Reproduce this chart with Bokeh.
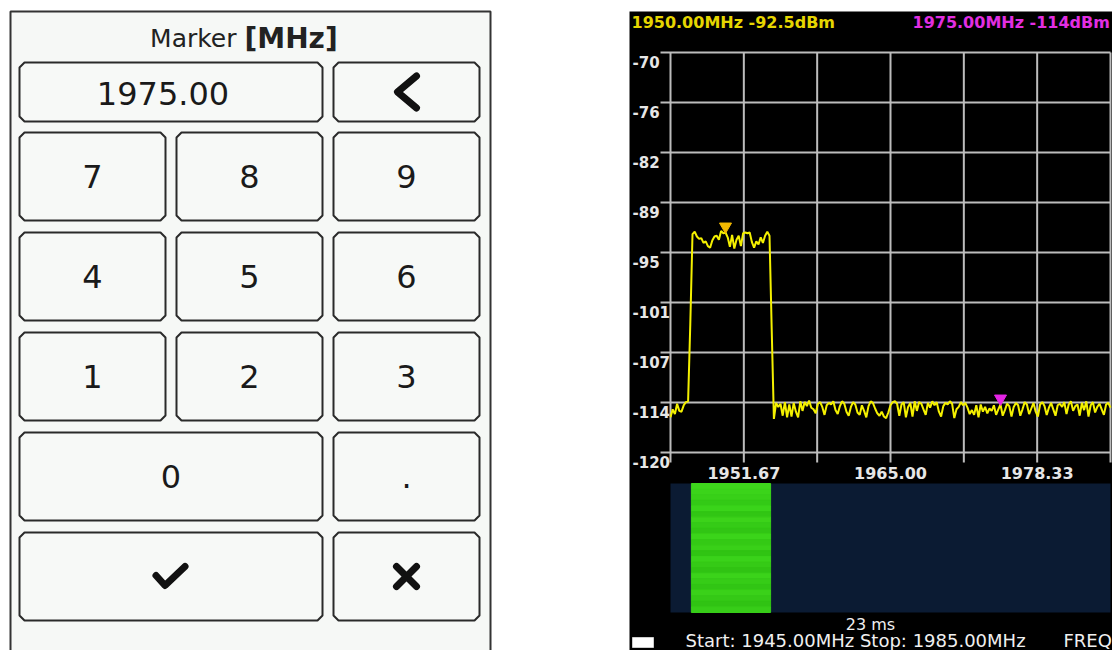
import numpy as np
from bokeh.plotting import figure
from bokeh.models import Range1d
from bokeh.core.properties import value
from bokeh.embed import file_html
from bokeh.resources import INLINE

# ------------------------------------------------------------------ data
FREQ_START_MHZ = 1945.0
FREQ_STOP_MHZ = 1985.0
FREQ_STEP_MHZ = 0.2
# one row per MHz: x.0, x.2, x.4, x.6, x.8
TRACE_DBM = [
    -115.6, -114.6, -115.2, -113.9, -114.8,   # 1945
    -114.9, -114.1, -113.7, -113.6, -103.9,   # 1946
    -92.7, -92.4, -93.0, -93.3, -93.2,        # 1947
    -93.8, -93.6, -94.2, -94.4, -93.5,        # 1948
    -93.0, -92.9, -93.4, -92.3, -92.6,        # 1949
    -92.5, -93.1, -94.3, -92.8, -94.5,        # 1950
    -93.4, -92.9, -94.2, -92.6, -92.5,        # 1951
    -92.6, -92.5, -93.7, -94.4, -93.6,        # 1952
    -94.0, -93.1, -93.8, -92.9, -92.4,        # 1953
    -92.9, -104.6, -115.8, -113.8, -114.3,    # 1954
    -113.9, -115.4, -113.7, -115.6, -114.0,   # 1955
    -115.5, -113.8, -114.9, -115.6, -113.6,   # 1956
    -114.8, -113.7, -114.2, -113.5, -114.4,   # 1957
    -114.6, -115.1, -113.9, -113.7, -114.3,   # 1958
    -115.3, -114.1, -113.8, -114.0, -113.6,   # 1959
    -114.7, -115.2, -114.2, -113.6, -113.9,   # 1960
    -114.9, -115.4, -114.3, -113.7, -114.0,   # 1961
    -115.0, -115.3, -114.1, -114.8, -115.6,   # 1962
    -114.2, -113.6, -113.8, -114.5, -115.1,   # 1963
    -115.4, -114.9, -115.5, -115.7, -115.0,   # 1964
    -114.1, -113.7, -113.6, -113.9, -115.4,   # 1965
    -114.0, -113.7, -115.6, -114.3, -113.8,   # 1966
    -115.5, -113.6, -114.8, -113.7, -113.9,   # 1967
    -114.6, -115.3, -113.8, -114.4, -113.6,   # 1968
    -114.1, -113.7, -114.9, -115.5, -114.2,   # 1969
    -113.8, -114.0, -113.6, -113.9, -115.7,   # 1970
    -114.6, -114.3, -113.7, -114.1, -113.8,   # 1971
    -114.4, -115.2, -114.7, -115.3, -114.1,   # 1972
    -115.6, -114.0, -114.9, -114.3, -115.1,   # 1973
    -114.5, -114.8, -114.1, -115.3, -114.6,   # 1974
    -114.0, -115.4, -114.7, -113.9, -114.2,   # 1975
    -115.5, -114.3, -113.8, -114.1, -115.4,   # 1976
    -114.6, -113.7, -114.0, -115.2, -114.5,   # 1977
    -113.8, -114.9, -115.5, -114.0, -113.7,   # 1978
    -114.2, -115.3, -114.4, -113.8, -114.6,   # 1979
    -115.4, -114.1, -113.9, -114.3, -113.7,   # 1980
    -115.2, -114.0, -113.6, -114.8, -114.2,   # 1981
    -114.0, -115.4, -113.8, -114.7, -113.6,   # 1982
    -115.5, -114.1, -113.7, -115.0, -114.3,   # 1983
    -113.9, -114.6, -115.3, -114.0, -113.8,   # 1984
    -114.4,                                   # 1985
]
MARKER_FREQ_MHZ = [1950.00, 1975.00]
MARKER_DBM = [-92.5, -114.0]
MARKER_COLORS = ["#f2b800", "#e424e4"]
READOUT_COLORS = ["#e6d600", "#e22ee2"]
REF_LEVEL_DBM = -70.0
BOTTOM_DBM = -120.0
Y_TICK_LABELS = ["-70", "-76", "-82", "-89", "-95", "-101", "-107", "-114", "-120"]
X_DIVISIONS = 6
X_LABELLED_DIVS = [1, 3, 5]
SWEEP_TIME_MS = 23
SIGNAL_START_MHZ = 1946.9
SIGNAL_STOP_MHZ = 1954.1
WF_ROW_COLORS = ["#3ed81c", "#3bd41a", "#38d018", "#33ca16", "#3ad41a", "#31c614",
                 "#3cd31a", "#35cb17", "#31c514", "#3bd41a", "#34c915", "#39d018",
                 "#30c413", "#3ad21a", "#35ca16", "#30c313", "#3bd31a", "#36cc17",
                 "#31c514", "#3ad119", "#35c916", "#30c313", "#37cd18"]

ENTRY_TITLE = "Marker"
ENTRY_UNIT = "[MHz]"
ENTRY_VALUE = "1975.00"
# keypad: (label, row, col, colspan)
KEYS = [("7", 1, 0, 1), ("8", 1, 1, 1), ("9", 1, 2, 1),
        ("4", 2, 0, 1), ("5", 2, 1, 1), ("6", 2, 2, 1),
        ("1", 3, 0, 1), ("2", 3, 1, 1), ("3", 3, 2, 1),
        ("0", 4, 0, 2), (".", 4, 2, 1)]
ICON_KEYS = [("back", 0, 2, 1), ("ok", 5, 0, 2), ("cancel", 5, 2, 1)]

# ------------------------------------------------------------------ layout (picture pixels)
W, H = 1112, 650
GRID_LEFT, GRID_TOP = 670, 52
PX_PER_MHZ = 440 / (FREQ_STOP_MHZ - FREQ_START_MHZ)
PX_PER_DB = 400 / (REF_LEVEL_DBM - BOTTOM_DBM)
WF_TOP, WF_BOTTOM = 483, 612
PX_PER_MS = (WF_BOTTOM - WF_TOP) / SWEEP_TIME_MS

def f_at(px):
    return FREQ_START_MHZ + (px - GRID_LEFT) / PX_PER_MHZ

def db_at(py):
    return REF_LEVEL_DBM - (py - GRID_TOP) / PX_PER_DB

def ms_at(py):
    return (py - WF_TOP) / PX_PER_MS

p = figure(width=W, height=H, x_range=Range1d(0, W), y_range=Range1d(H, 0),
           output_backend="svg", toolbar_location=None, min_border=0,
           x_axis_location=None, y_axis_location=None,
           background_fill_color="white", border_fill_color="white", outline_line_color=None)
p.grid.visible = False
p.extra_x_ranges = {"freq": Range1d(f_at(0), f_at(W))}
p.extra_y_ranges = {"dbm": Range1d(db_at(H), db_at(0)),
                    "ms": Range1d(ms_at(H), ms_at(0))}

FONT = value("DejaVu Sans")

# ------------------------------------------------------------------ keypad panel
p.quad(left=10, right=490, top=11, bottom=H + 10, fill_color="#f6f8f6",
       line_color="#333333", line_width=2)

COL_X0, COL_W, COL_PITCH = 19, 146, 157
ROW_Y0, ROW_H, ROW_PITCH = 132, 88, 100
ENTRY_Y0, ENTRY_Y1 = 62, 121

def key_box(row, col, span):
    x0 = COL_X0 + col * COL_PITCH
    x1 = x0 + COL_W + (span - 1) * COL_PITCH
    if row == 0:
        y0, y1 = ENTRY_Y0, ENTRY_Y1
    else:
        y0 = ROW_Y0 + (row - 1) * ROW_PITCH
        y1 = y0 + ROW_H
    return x0, y0, x1, y1

def chamfer(x0, y0, x1, y1, c=5):
    return ([x0 + c, x1 - c, x1, x1, x1 - c, x0 + c, x0, x0],
            [y0, y0, y0 + c, y1 - c, y1, y1, y1 - c, y0 + c])

boxes = [key_box(0, 0, 2)] + [key_box(r, c, s) for _, r, c, s in KEYS] + \
        [key_box(r, c, s) for _, r, c, s in ICON_KEYS]
xs, ys = zip(*[chamfer(*b) for b in boxes])
p.patches(xs=list(xs), ys=list(ys), fill_color="#f7f9f7", line_color="#2a2a2a", line_width=2)

p.text(x=[236], y=[38], text=[ENTRY_TITLE], text_font=FONT, text_font_size="25px",
       text_align="right", text_baseline="middle", text_color="#222222")
p.text(x=[244], y=[38], text=[ENTRY_UNIT], text_font=FONT, text_font_size="28px",
       text_font_style="bold", text_align="left", text_baseline="middle", text_color="#222222")

ex0, ey0, ex1, ey1 = key_box(0, 0, 2)
p.text(x=[(ex0 + ex1) / 2 - 8], y=[(ey0 + ey1) / 2 + 1], text=[ENTRY_VALUE], text_font=FONT,
       text_font_size="32px", text_align="center", text_baseline="middle", text_color="#1a1a1a")

kx, ky = [], []
for lab, r, c, s in KEYS:
    x0, y0, x1, y1 = key_box(r, c, s)
    kx.append((x0 + x1) / 2)
    ky.append((y0 + y1) / 2)
p.text(x=kx, y=ky, text=[k[0] for k in KEYS], text_font=FONT, text_font_size="32px",
       text_align="center", text_baseline="middle", text_color="#1a1a1a")

ICON_SHAPES = {
    "back": [[(10, -16), (-9, 0), (10, 16)]],
    "ok": [[(-15, -1), (-6, 9), (14, -10)]],
    "cancel": [[(-10, -10), (10, 10)], [(-10, 10), (10, -10)]],
}
ixs, iys = [], []
for name, r, c, s in ICON_KEYS:
    x0, y0, x1, y1 = key_box(r, c, s)
    cx, cy = (x0 + x1) / 2, (y0 + y1) / 2
    for stroke in ICON_SHAPES[name]:
        ixs.append([cx + dx for dx, dy in stroke])
        iys.append([cy + dy for dx, dy in stroke])
p.multi_line(xs=ixs, ys=iys, line_color="#111111", line_width=7,
             line_cap="round", line_join="round")

# ------------------------------------------------------------------ spectrum panel
p.quad(left=629, right=W, top=11, bottom=H, fill_color="black", line_color=None)

FR = dict(x_range_name="freq", y_range_name="dbm")
h_levels = np.linspace(REF_LEVEL_DBM, BOTTOM_DBM, len(Y_TICK_LABELS))
v_freqs = np.linspace(FREQ_START_MHZ, FREQ_STOP_MHZ, X_DIVISIONS + 1)
ext_f = 10 / PX_PER_MHZ
ext_db = 10 / PX_PER_DB
p.multi_line(xs=[[FREQ_START_MHZ - ext_f, FREQ_STOP_MHZ] for _ in h_levels],
             ys=[[v, v] for v in h_levels], line_color="#bcbcbc", line_width=2, **FR)
p.multi_line(xs=[[f, f] for f in v_freqs],
             ys=[[BOTTOM_DBM - ext_db, REF_LEVEL_DBM] for _ in v_freqs],
             line_color="#bcbcbc", line_width=2, **FR)

RFONT = value("DejaVu Sans")
p.text(x=[FREQ_START_MHZ] * len(h_levels), y=list(h_levels), text=Y_TICK_LABELS,
       x_offset=-38, y_offset=3, text_font=RFONT, text_font_size="15px", text_font_style="bold",
       text_align="left", text_baseline="top", text_color="#e6e6e6", **FR)
xl = [v_freqs[k] for k in X_LABELLED_DIVS]
p.text(x=xl, y=[BOTTOM_DBM] * len(xl), text=[f"{v:.2f}" for v in xl], y_offset=14,
       text_font=RFONT, text_font_size="16px", text_font_style="bold",
       text_align="center", text_baseline="top", text_color="#e6e6e6", **FR)

# waterfall
WF = dict(x_range_name="freq", y_range_name="ms")
p.quad(left=FREQ_START_MHZ, right=FREQ_STOP_MHZ, top=0, bottom=SWEEP_TIME_MS,
       fill_color="#0b1b33", line_color=None, **WF)
edges = np.linspace(0, SWEEP_TIME_MS, len(WF_ROW_COLORS) + 1)
p.quad(left=SIGNAL_START_MHZ, right=SIGNAL_STOP_MHZ, top=edges[:-1], bottom=edges[1:],
       fill_color=WF_ROW_COLORS, line_color=WF_ROW_COLORS, line_width=1, **WF)

# trace
freqs = FREQ_START_MHZ + FREQ_STEP_MHZ * np.arange(len(TRACE_DBM))
p.line(freqs, TRACE_DBM, line_color="#f4f000", line_width=2, **FR)

# markers
lift = 6 / PX_PER_DB
p.scatter(MARKER_FREQ_MHZ, [d + lift for d in MARKER_DBM], marker="inverted_triangle",
          size=12, fill_color=MARKER_COLORS, line_color=MARKER_COLORS, **FR)

# header readouts
def fmt_db(d):
    return f"{d:g}"
p.text(x=[631], y=[12], text=[f"{MARKER_FREQ_MHZ[0]:.2f}MHz {fmt_db(MARKER_DBM[0])}dBm"],
       text_font=RFONT, text_font_size="16px", text_font_style="bold",
       text_align="left", text_baseline="top", text_color=READOUT_COLORS[0])
p.text(x=[912], y=[12], text=[f"{MARKER_FREQ_MHZ[1]:.2f}MHz {fmt_db(MARKER_DBM[1])}dBm"],
       text_font=RFONT, text_font_size="16px", text_font_style="bold",
       text_align="left", text_baseline="top", text_color=READOUT_COLORS[1])

# footer
p.text(x=[870], y=[614], text=[f"{SWEEP_TIME_MS} ms"], text_font=RFONT, text_font_size="16px",
       text_align="center", text_baseline="top", text_color="#f0f0f0")
p.text(x=[685], y=[629], text=[f"Start: {FREQ_START_MHZ:.2f}MHz Stop: {FREQ_STOP_MHZ:.2f}MHz"],
       text_font=RFONT, text_font_size="18px", text_align="left", text_baseline="top",
       text_color="#f0f0f0")
p.text(x=[1063], y=[629], text=["FREQ"], text_font=RFONT, text_font_size="18px",
       text_align="left", text_baseline="top", text_color="#f0f0f0")
p.quad(left=[632], right=[653], top=[637], bottom=[647], fill_color="white",
       line_color="#cccccc")

open("out.html", "w").write(file_html(p, INLINE))
